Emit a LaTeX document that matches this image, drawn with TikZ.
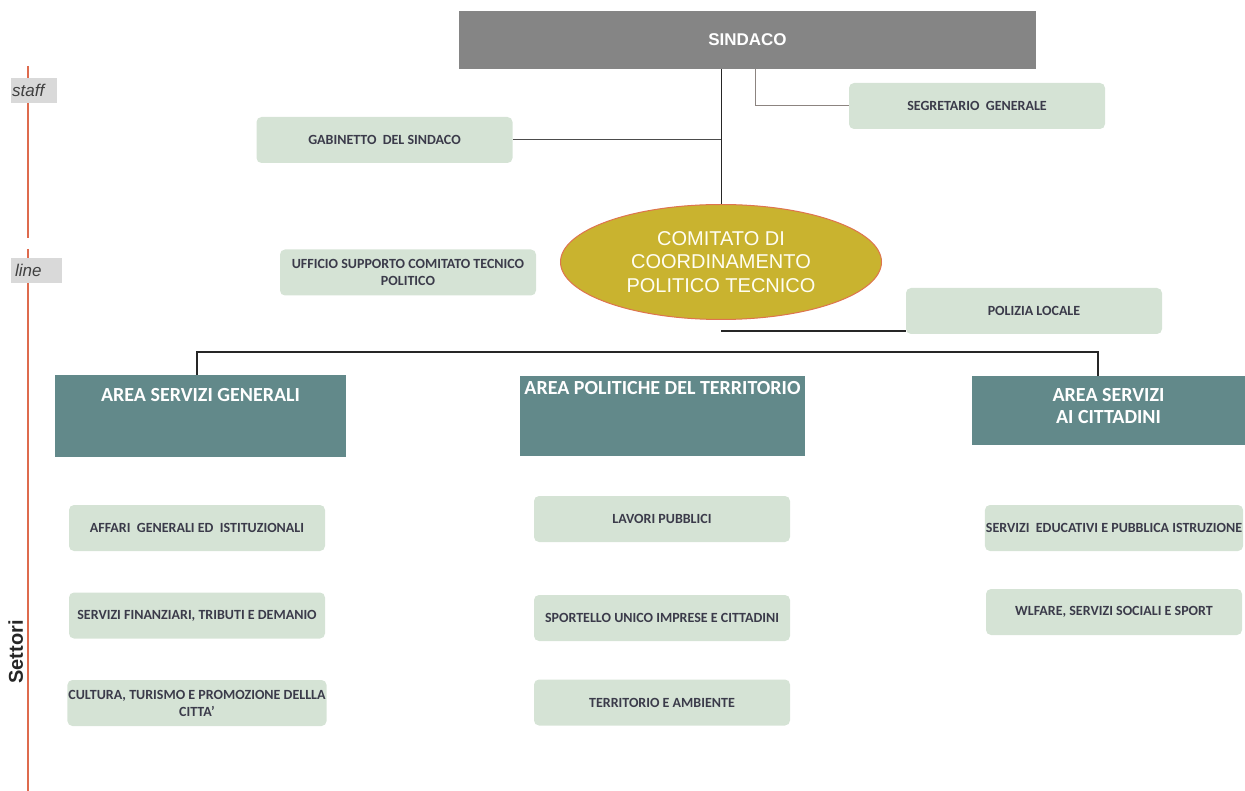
\documentclass[tikz,border=0pt]{standalone}
\usepackage{fontspec}
\setmainfont{Liberation Sans}
\newfontfamily\carlito{Carlito}
\usetikzlibrary{shapes.geometric}
\definecolor{sindgray}{HTML}{858585}
\definecolor{boxgreen}{HTML}{D5E3D5}
\definecolor{areateal}{HTML}{62898A}
\definecolor{ellfill}{HTML}{C9B32F}
\definecolor{ellline}{HTML}{DE744F}
\definecolor{redline}{HTML}{DE6B4E}
\definecolor{tagcol}{HTML}{D9D9D9}
\definecolor{txtdark}{HTML}{3B3B4A}
\definecolor{segcol}{HTML}{8C8480}
\begin{document}
\begin{tikzpicture}[x=1pt,y=-1pt,
    sub/.style={fill=boxgreen, rounded corners=5pt, minimum width=256pt, minimum height=46pt,
      inner sep=1pt, align=center, text=txtdark, font=\carlito\bfseries\fontsize{14}{17}\selectfont},
    area/.style={fill=areateal, inner sep=0pt},
    areatxt/.style={text=white, align=center, font=\carlito\bfseries\fontsize{20}{22}\selectfont},
    tag/.style={fill=tagcol, inner sep=0pt, inner xsep=1pt, text width=44pt, minimum height=25pt,
      anchor=north west, text=black!75, font=\itshape\fontsize{17}{17}\selectfont},
    link/.style={black!85, line width=1pt},
    bus/.style={black!85, line width=2.4pt}]
    \useasboundingbox (0,0) rectangle (1245,791);

    % left margin: staff / line / settori
    \draw[redline, line width=2.5pt] (28,66) -- (28,238);
    \draw[redline, line width=2.5pt] (28,249) -- (28,791);
    \node[tag] (stafftag) at (11,78) {staff};
    \node[tag, text width=49pt] (linetag) at (11,258) {\hspace*{3pt}line};
    \node[rotate=90, anchor=base, inner sep=0pt, text=black!85,
      font=\bfseries\fontsize{20}{20}\selectfont] (settori) at (23,652) {Settori};

    % vertice
    \node[fill=sindgray, minimum width=577pt, minimum height=58pt, text=white,
      font=\bfseries\fontsize{17}{17}\selectfont] (sind) at (747.5,40) {SINDACO};
    \node[sub] (segr) at (977,106) {SEGRETARIO~ GENERALE};
    \node[sub] (gab) at (384.5,140) {GABINETTO~ DEL SINDACO};
    \node[ellipse, fill=ellfill, draw=ellline, line width=1pt, minimum width=321pt, minimum height=115pt,
      inner sep=0pt, align=center, text=white!95!yellow, font=\fontsize{20}{23.5}\selectfont]
      (ell) at (721,262) {COMITATO DI\\COORDINAMENTO\\POLITICO TECNICO};
    \node[sub] (uff) at (408,272.5) {UFFICIO SUPPORTO COMITATO TECNICO\\POLITICO};
    \node[sub] (pol) at (1034,311) {POLIZIA LOCALE};

    \draw[link] (sind.south -| ell.north) -- (ell.north);
    \draw[link, black!70] (gab.east) -- (gab.east -| ell.north);
    \draw[link, segcol] ([xshift=7.5pt]sind.south) |- (segr.west);
    \draw[bus, line width=2pt] ([yshift=3pt]pol.south west) -- ([yshift=3pt]pol.south west -| ell.south);

    % aree
    \node[area, minimum width=291pt, minimum height=82pt,
      label={[areatxt, anchor=north, yshift=-10pt]north:AREA SERVIZI GENERALI}] (asg) at (200.5,416) {};
    \node[area, minimum width=285pt, minimum height=80pt,
      label={[areatxt, anchor=north, yshift=-2pt]north:AREA POLITICHE DEL TERRITORIO}] (apt) at (662.5,416) {};
    \node[area, minimum width=273pt, minimum height=69pt,
      label={[areatxt, yshift=4pt]center:AREA SERVIZI\\AI CITTADINI}] (asc) at (1108.5,410.5) {};

    \coordinate (busl) at (197,352);
    \coordinate (busr) at (1098,352);
    \draw[bus] (busl |- asg.north) -- (busl) -- (busr) -- (busr |- asc.north);

    % settori
    \node[sub] (aff) at (197,528) {AFFARI~ GENERALI ED~ ISTITUZIONALI};
    \node[sub] (fin) at (197,615.5) {SERVIZI FINANZIARI, TRIBUTI E DEMANIO};
    \node[sub] (cult) at (197,703) {CULTURA, TURISMO E PROMOZIONE DELLLA\\CITTA’};
    \node[sub] (lav) at (662,519) {LAVORI PUBBLICI};
    \node[sub] (spo) at (662,618) {SPORTELLO UNICO IMPRESE E CITTADINI};
    \node[sub] (terr) at (662,702.5) {TERRITORIO E AMBIENTE};
    \node[sub] (edu) at (1114,528) {SERVIZI~ EDUCATIVI E PUBBLICA ISTRUZIONE};
    \node[sub] (wel) at (1114,612) {WLFARE, SERVIZI SOCIALI E SPORT};
\end{tikzpicture}
\end{document}
